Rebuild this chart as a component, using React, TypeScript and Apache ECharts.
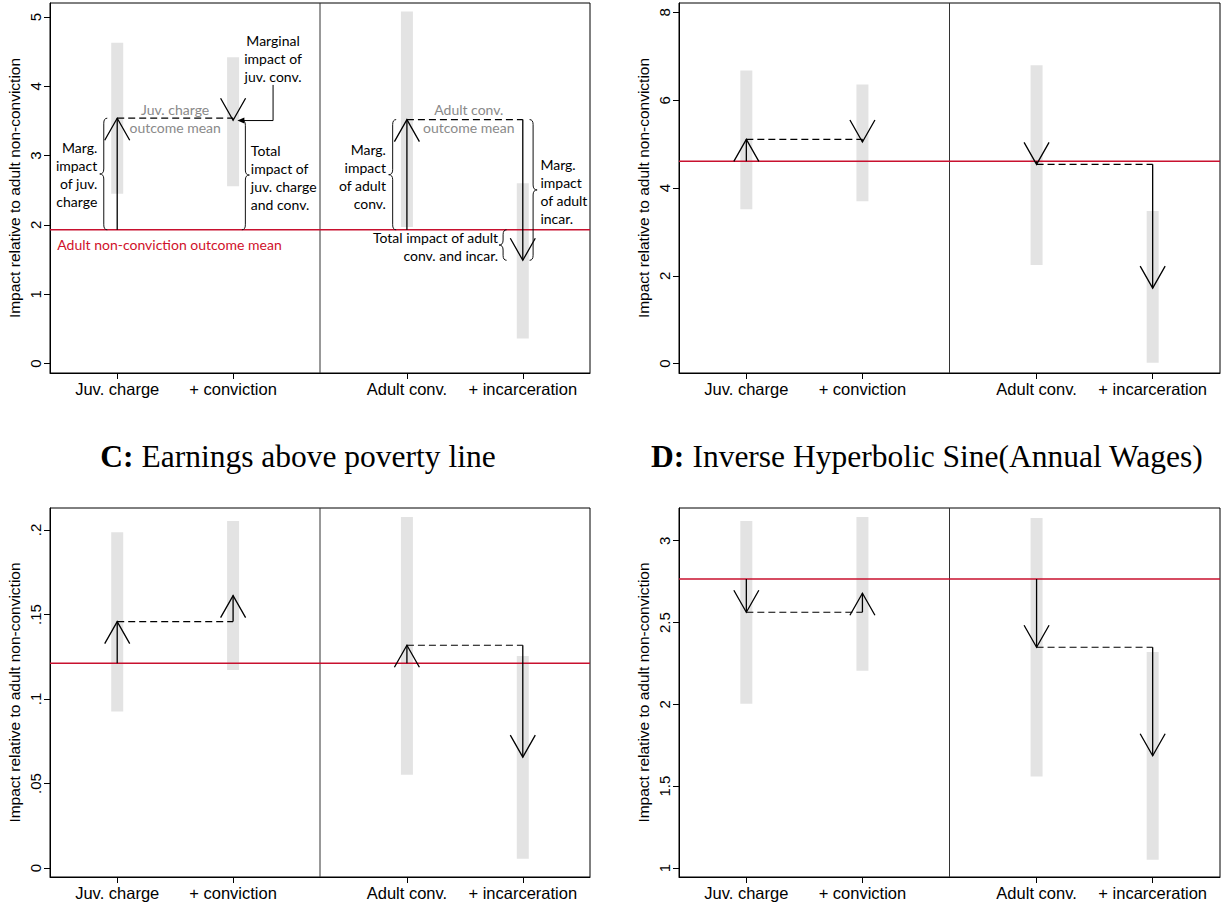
import React, { useEffect, useRef } from 'react';
import * as echarts from 'echarts';

// ---------- data ----------
const categories = ['Juv. charge', '+ conviction', 'Adult conv.', '+ incarceration'];
const categoryX = [1, 2, 3.5, 4.5];
const xRange = [0.42, 5.08];
const dividerX = 2.75;
const yTitle = 'Impact relative to adult non-conviction';

// Panel A
const aNonConvMean = 1.93;
const aMeans = [3.54, 3.51, 3.52, 1.49];
const aCiLow = [2.45, 2.56, 1.97, 0.36];
const aCiHigh = [4.63, 4.42, 5.08, 2.6];
const aTicks = [0, 1, 2, 3, 4, 5];
const aRange = [-0.136, 5.202];

// Panel B
const bNonConvMean = 4.61;
const bMeans = [5.11, 5.05, 4.54, 1.72];
const bCiLow = [3.52, 3.7, 2.25, 0.02];
const bCiHigh = [6.68, 6.36, 6.8, 3.48];
const bTicks = [0, 2, 4, 6, 8];
const bRange = [-0.212, 8.215];

// Panel C
const cTitle = ['C:', 'Earnings above poverty line'];
const cNonConvMean = 0.1212;
const cMeans = [0.1458, 0.1612, 0.1318, 0.0656];
const cCiLow = [0.0926, 0.1172, 0.0552, 0.0055];
const cCiHigh = [0.1986, 0.2053, 0.2077, 0.1255];
const cTicks = [0, 0.05, 0.1, 0.15, 0.2];
const cRange = [-0.0053, 0.213];

// Panel D
const dTitle = ['D:', 'Inverse Hyperbolic Sine(Annual Wages)'];
const dNonConvMean = 2.766;
const dMeans = [2.563, 2.679, 2.349, 1.686];
const dCiLow = [2.003, 2.205, 1.559, 1.051];
const dCiHigh = [3.121, 3.145, 3.139, 2.32];
const dTicks = [1, 1.5, 2, 2.5, 3];
const dRange = [0.945, 3.2];

// Panel A annotations (data coordinates)
const annoTexts = [
  { text: 'Juv. charge\noutcome mean', x: 1.5, y: 3.536, align: 'center', kind: 'gray' },
  { text: 'Marginal\nimpact of\njuv. conv.', x: 2.345, y: 4.4, align: 'center', kind: 'black' },
  { text: 'Marg.\nimpact\nof juv.\ncharge', x: 0.828, y: 2.73, align: 'right', kind: 'black' },
  { text: 'Total\nimpact of\njuv. charge\nand conv.', x: 2.153, y: 2.69, align: 'left', kind: 'black' },
  { text: 'Adult non-conviction outcome mean', x: 0.483, y: 1.72, align: 'left', kind: 'red' },
  { text: 'Adult conv.\noutcome mean', x: 4.034, y: 3.54, align: 'center', kind: 'gray' },
  { text: 'Marg.\nimpact\nof adult\nconv.', x: 3.319, y: 2.7, align: 'right', kind: 'black' },
  { text: 'Marg.\nimpact\nof adult\nincar.', x: 4.652, y: 2.485, align: 'left', kind: 'black' },
  { text: 'Total impact of adult\nconv. and incar.', x: 4.287, y: 1.69, align: 'right', kind: 'black' },
];
const braceX = [0.884, 2.106, 3.377, 4.589, 4.33];
const braceFrom = [aNonConvMean, aNonConvMean, aNonConvMean, aMeans[3], aMeans[3]];
const braceTo = [aMeans[0], aMeans[1], aMeans[2], aMeans[2], aNonConvMean];
const braceDir = [-1, 1, -1, 1, -1];
const connector = [2.345, 4.02, 3.506, 2.037];

// ---------- styles ----------
const RED = '#c8102e';
const RED_TEXT = '#d0102a';
const GRAY_TEXT = '#8a8a8a';
const CI_FILL = '#e3e3e3';
const SANS = '"Liberation Sans", Arial, sans-serif';
const NOTE_FONT = 'Lato, Calibri, sans-serif';
const SERIF = '"Liberation Serif", "Times New Roman", serif';
const TITLE_SIZE = 31.5;

const grids = [
  { left: 50, top: 3, width: 540, height: 370 },
  { left: 679, top: 3, width: 541, height: 370 },
  { left: 50, top: 508, width: 540, height: 369 },
  { left: 679, top: 508, width: 541, height: 369 },
];

const fmtPlain = (v: number) => String(+v.toFixed(3));
const fmtDot = (v: number) => (v === 0 ? '0' : String(+v.toFixed(3)).replace(/^0\./, '.'));

const panels = [
  { base: aNonConvMean, means: aMeans, lo: aCiLow, hi: aCiHigh, ticks: aTicks, range: aRange, fmt: fmtPlain },
  { base: bNonConvMean, means: bMeans, lo: bCiLow, hi: bCiHigh, ticks: bTicks, range: bRange, fmt: fmtPlain },
  { base: cNonConvMean, means: cMeans, lo: cCiLow, hi: cCiHigh, ticks: cTicks, range: cRange, fmt: fmtDot },
  { base: dNonConvMean, means: dMeans, lo: dCiLow, hi: dCiHigh, ticks: dTicks, range: dRange, fmt: fmtPlain },
];

function buildOption() {
  const xAxis: any[] = [];
  const yAxis: any[] = [];
  const series: any[] = [];

  panels.forEach((p, i) => {
    xAxis.push({
      type: 'value',
      gridIndex: i,
      min: xRange[0],
      max: xRange[1],
      axisLine: { show: true, onZero: false, lineStyle: { color: '#000', width: 1 } },
      axisTick: { show: true, length: 6, customValues: categoryX, lineStyle: { color: '#000' } },
      axisLabel: {
        customValues: categoryX,
        formatter: (v: number) => {
          const k = categoryX.findIndex((c) => Math.abs(c - v) < 1e-6);
          return k >= 0 ? categories[k] : '';
        },
        fontFamily: SANS,
        fontSize: 16.5,
        color: '#000',
        margin: 7,
      },
      splitLine: { show: false },
    });
    yAxis.push({
      type: 'value',
      gridIndex: i,
      min: p.range[0],
      max: p.range[1],
      name: yTitle,
      nameLocation: 'middle',
      nameGap: 28,
      nameRotate: 90,
      nameTextStyle: { fontFamily: SANS, fontSize: 15.5, color: '#000' },
      axisLine: { show: true, onZero: false, lineStyle: { color: '#000', width: 1 } },
      axisTick: { show: true, length: 6, customValues: p.ticks, lineStyle: { color: '#000' } },
      axisLabel: {
        customValues: p.ticks,
        rotate: 90,
        formatter: (v: number) => p.fmt(v),
        fontFamily: SANS,
        fontSize: 15,
        color: '#000',
        margin: 7,
      },
      splitLine: { show: false },
    });

    // CI bars
    series.push({
      type: 'custom',
      xAxisIndex: i,
      yAxisIndex: i,
      silent: true,
      z: 1,
      data: categoryX.map((x, j) => [x, p.lo[j], p.hi[j]]),
      renderItem: (params: any, api: any) => {
        const top = api.coord([api.value(0), api.value(2)]);
        const bot = api.coord([api.value(0), api.value(1)]);
        return {
          type: 'rect',
          shape: { x: top[0] - 6, y: top[1], width: 12, height: bot[1] - top[1] },
          style: { fill: CI_FILL },
        };
      },
    });
    // divider
    series.push({
      type: 'line',
      xAxisIndex: i,
      yAxisIndex: i,
      silent: true,
      z: 2,
      symbol: 'none',
      data: [
        [dividerX, p.range[0]],
        [dividerX, p.range[1]],
      ],
      lineStyle: { color: '#333', width: 1 },
    });
    // baseline (adult non-conviction mean)
    series.push({
      type: 'line',
      xAxisIndex: i,
      yAxisIndex: i,
      silent: true,
      z: 3,
      symbol: 'none',
      data: [
        [xRange[0], p.base],
        [xRange[1], p.base],
      ],
      lineStyle: { color: RED, width: 1.5 },
    });
    // dashed connectors
    series.push({
      type: 'custom',
      xAxisIndex: i,
      yAxisIndex: i,
      silent: true,
      z: 4,
      data: [
        [categoryX[0], categoryX[1], p.means[0]],
        [categoryX[2], categoryX[3], p.means[2]],
      ],
      renderItem: (params: any, api: any) => {
        const a = api.coord([api.value(0), api.value(2)]);
        const b = api.coord([api.value(1), api.value(2)]);
        return {
          type: 'line',
          shape: { x1: a[0], y1: a[1], x2: b[0], y2: b[1] },
          style: { stroke: '#000', lineWidth: 1.2, lineDash: [7, 4] },
        };
      },
    });
    // arrows
    series.push({
      type: 'custom',
      xAxisIndex: i,
      yAxisIndex: i,
      silent: true,
      z: 5,
      data: [
        [categoryX[0], p.base, p.means[0]],
        [categoryX[1], p.means[0], p.means[1]],
        [categoryX[2], p.base, p.means[2]],
        [categoryX[3], p.means[2], p.means[3]],
      ],
      renderItem: (params: any, api: any) => {
        const x = api.value(0);
        const a = api.coord([x, api.value(1)]);
        const b = api.coord([x, api.value(2)]);
        const dir = b[1] < a[1] ? 1 : -1;
        return {
          type: 'group',
          children: [
            {
              type: 'line',
              shape: { x1: a[0], y1: a[1], x2: b[0], y2: b[1] },
              style: { stroke: '#000', lineWidth: 1.3 },
            },
            {
              type: 'polyline',
              shape: {
                points: [
                  [b[0] - 12.5, b[1] + dir * 22],
                  [b[0], b[1]],
                  [b[0] + 12.5, b[1] + dir * 22],
                ],
              },
              style: { stroke: '#000', lineWidth: 1.3, fill: 'none' },
            },
          ],
        };
      },
    });
  });

  // Panel A annotations
  series.push({
    type: 'custom',
    xAxisIndex: 0,
    yAxisIndex: 0,
    silent: true,
    z: 6,
    data: annoTexts.map((a) => [a.x, a.y]),
    renderItem: (params: any, api: any) => {
      const a = annoTexts[params.dataIndex];
      const pt = api.coord([api.value(0), api.value(1)]);
      const fill = a.kind === 'gray' ? GRAY_TEXT : a.kind === 'red' ? RED_TEXT : '#000';
      return {
        type: 'text',
        x: pt[0],
        y: pt[1],
        style: {
          text: a.text,
          fill,
          fontFamily: NOTE_FONT,
          fontSize: 14,
          align: a.align,
          verticalAlign: 'middle',
          lineHeight: 18,
        },
      };
    },
  });
  series.push({
    type: 'custom',
    xAxisIndex: 0,
    yAxisIndex: 0,
    silent: true,
    z: 6,
    data: braceX.map((x, k) => [x, braceFrom[k], braceTo[k], braceDir[k]]),
    renderItem: (params: any, api: any) => {
      const p1 = api.coord([api.value(0), api.value(1)]);
      const p2 = api.coord([api.value(0), api.value(2)]);
      const dir = api.value(3);
      const b = p1[0];
      const top = Math.min(p1[1], p2[1]);
      const bot = Math.max(p1[1], p2[1]);
      const mid = (top + bot) / 2;
      const r = Math.min(5, (bot - top) / 4);
      const e = 3.5;
      const t = 4;
      const d =
        `M ${b - dir * e} ${top} Q ${b} ${top} ${b} ${top + r} L ${b} ${mid - r} ` +
        `Q ${b} ${mid} ${b + dir * t} ${mid} Q ${b} ${mid} ${b} ${mid + r} ` +
        `L ${b} ${bot - r} Q ${b} ${bot} ${b - dir * e} ${bot}`;
      return {
        type: 'path',
        shape: { pathData: d },
        style: { stroke: '#111', fill: 'none', lineWidth: 1 },
      };
    },
  });
  series.push({
    type: 'custom',
    xAxisIndex: 0,
    yAxisIndex: 0,
    silent: true,
    z: 6,
    data: [connector],
    renderItem: (params: any, api: any) => {
      const a = api.coord([api.value(0), api.value(1)]);
      const b = api.coord([api.value(0), api.value(2)]);
      const c = api.coord([api.value(3), api.value(2)]);
      return {
        type: 'group',
        children: [
          {
            type: 'polyline',
            shape: { points: [a, b, [c[0] + 5, c[1]]] },
            style: { stroke: '#000', lineWidth: 1, fill: 'none' },
          },
          {
            type: 'polygon',
            shape: { points: [c, [c[0] + 7, c[1] - 3], [c[0] + 7, c[1] + 3]] },
            style: { fill: '#000' },
          },
        ],
      };
    },
  });

  const titleText = (t: string[]) => `{b|${t[0]}}{r| ${t[1]}}`;
  const titleRich = {
    b: { fontFamily: SERIF, fontSize: TITLE_SIZE, fontWeight: 'bold', fill: '#000' },
    r: { fontFamily: SERIF, fontSize: TITLE_SIZE, fill: '#000' },
  };

  return {
    animation: false,
    backgroundColor: '#fff',
    grid: grids.map((g) => ({
      ...g,
      show: true,
      borderColor: '#000',
      borderWidth: 1,
      backgroundColor: '#fff',
    })),
    xAxis,
    yAxis,
    series,
    graphic: [
      {
        type: 'text',
        x: 298,
        y: 456,
        style: {
          text: titleText(cTitle),
          rich: titleRich,
          fontFamily: SERIF,
          fontSize: TITLE_SIZE,
          align: 'center',
          verticalAlign: 'middle',
        },
      },
      {
        type: 'text',
        x: 927,
        y: 456,
        style: {
          text: titleText(dTitle),
          rich: titleRich,
          fontFamily: SERIF,
          fontSize: TITLE_SIZE,
          align: 'center',
          verticalAlign: 'middle',
        },
      },
    ],
  };
}

export default function App() {
  const ref = useRef<HTMLDivElement>(null);
  useEffect(() => {
    if (!ref.current) return;
    const chart = echarts.init(ref.current, null, { renderer: 'svg' });
    chart.setOption(buildOption() as any);
    return () => chart.dispose();
  }, []);
  return (
    <div
      ref={ref}
      style={{ position: 'absolute', left: 0, top: 0, width: 1225, height: 906, background: '#fff' }}
    />
  );
}
